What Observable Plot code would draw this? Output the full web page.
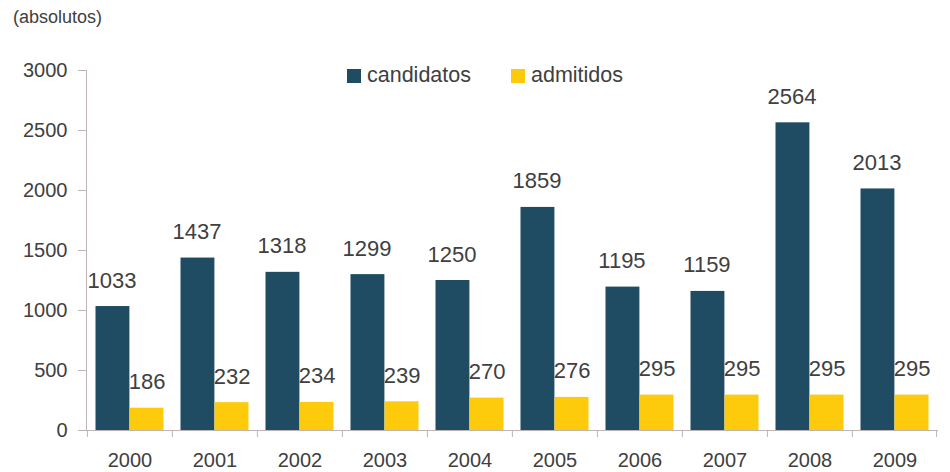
<!DOCTYPE html>
<html>
<head>
<meta charset="utf-8">
<script src="https://cdn.jsdelivr.net/npm/d3@7"></script>
<script src="https://cdn.jsdelivr.net/npm/@observablehq/plot@0.6"></script>
<style>
  body { margin: 0; background: #fff; font-family: "Liberation Sans", Arial, sans-serif; }
  #wrap { position: relative; width: 950px; height: 472px; }
  #unit { height: 40px; box-sizing: border-box; padding: 7px 0 0 13px; font-size: 18px; color: #404040; }
  #legend { position: absolute; top: 63px; left: 347px; display: flex; align-items: center; font-size: 21.5px; color: #404040; }
  #legend .item { display: flex; align-items: center; margin-right: 40px; }
  #legend .sw { width: 14px; height: 14px; margin-right: 6px; }
</style>
</head>
<body>
<div id="wrap">
  <div id="unit">(absolutos)</div>
  <div id="chart"></div>
  <div id="legend"></div>
</div>
<script>
const years = ["2000","2001","2002","2003","2004","2005","2006","2007","2008","2009"];
const candidatos = [1033,1437,1318,1299,1250,1859,1195,1159,2564,2013];
const admitidos = [186,232,234,239,270,276,295,295,295,295];
const seriesNames = ["candidatos","admitidos"];
const seriesColors = ["#1f4c63","#fdcb0b"];
const yTicks = [0,500,1000,1500,2000,2500,3000];

const W = 950, H = 432, ML = 86, MR = 12, MT = 30, MB = 42;
const step = (W - ML - MR) / years.length;
const gap = 8.5;
const barW = (step - 2 * gap) / 2;
const axisColor = "#bdb5b5";
const textColor = "#404040";

const candData = years.map((y, i) => ({year: y, value: candidatos[i]}));
const admData = years.map((y, i) => ({year: y, value: admitidos[i]}));

const chart = Plot.plot({
  width: W, height: H,
  marginLeft: ML, marginRight: MR, marginTop: MT, marginBottom: MB,
  style: {fontFamily: "'Liberation Sans', Arial, sans-serif", color: textColor, background: "#fff"},
  x: {domain: years, padding: 0, axis: null},
  y: {domain: [0, 3000], axis: null},
  marks: [
    Plot.barY(candData, {x: "year", y: "value", fill: seriesColors[0], insetLeft: gap, insetRight: step - gap - barW}),
    Plot.barY(admData, {x: "year", y: "value", fill: seriesColors[1], insetLeft: gap + barW, insetRight: gap}),
    Plot.text(candData, {x: "year", y: "value", text: d => String(d.value), dx: gap + barW / 2 - step / 2 - 1, dy: -26, fontSize: 22, fill: textColor}),
    Plot.text(admData, {x: "year", y: "value", text: d => String(d.value), dx: gap + barW * 1.5 - step / 2, dy: -26, fontSize: 22, fill: textColor}),
    Plot.frame({anchor: "left", stroke: axisColor}),
    Plot.ruleY([0], {stroke: axisColor}),
    Plot.ruleX(years, {x: d => d, y1: d => 0, y2: d => 0, dx: -step / 2, insetBottom: -7, stroke: axisColor}),
    Plot.ruleX(years.slice(-1), {x: d => d, y1: d => 0, y2: d => 0, dx: step / 2 - 1, insetBottom: -7, stroke: axisColor}),
    Plot.axisY({ticks: yTicks, tickSize: 8, tickFormat: () => "", stroke: axisColor, label: null}),
    Plot.axisY({ticks: yTicks, tickSize: 0, tickPadding: 19, tickFormat: d => String(d), fontSize: 20, fill: textColor, label: null}),
    Plot.axisX({tickSize: 0, tickPadding: 22, fontSize: 20, fill: textColor, label: null})
  ]
});
document.getElementById("chart").appendChild(chart);

const legend = document.getElementById("legend");
seriesNames.forEach((name, i) => {
  const item = document.createElement("div");
  item.className = "item";
  const sw = document.createElement("div");
  sw.className = "sw";
  sw.style.background = seriesColors[i];
  const label = document.createElement("span");
  label.textContent = name;
  item.appendChild(sw);
  item.appendChild(label);
  legend.appendChild(item);
});
</script>
</body>
</html>
